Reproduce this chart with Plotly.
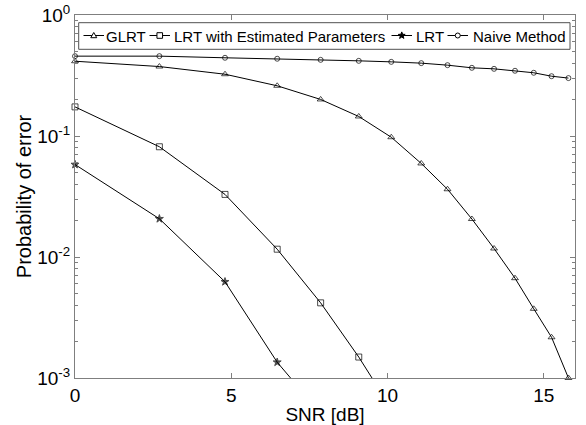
import math
import plotly.graph_objects as go

# ---- data ----
snr_db = [0, 2.70, 4.80, 6.47, 7.86, 9.08, 10.12, 11.08, 11.92, 12.70, 13.41, 14.08, 14.68, 15.25, 15.79]
glrt = [0.415, 0.375, 0.324, 0.260, 0.2005, 0.145, 0.0977, 0.0593, 0.0363, 0.0206,
        0.01175, 0.00668, 0.00373, 0.00217, 0.0010]
lrt_est = [0.174, 0.0815, 0.0329, 0.0116, 0.00418, 0.00149, 0.00056]
lrt = [0.0581, 0.0207, 0.00624, 0.00135, 0.00051]
naive = [0.457, 0.457, 0.443, 0.435, 0.426, 0.418, 0.410, 0.400, 0.385, 0.366,
         0.359, 0.346, 0.333, 0.312, 0.301]

series_names = ["GLRT", "LRT with Estimated Parameters", "LRT", "Naive Method"]
series_vals = [glrt, lrt_est, lrt, naive]

y_ticks = [1e-3, 1e-2, 1e-1, 1]
y_ticktext = ["10<sup>-3</sup>", "10<sup>-2</sup>", "10<sup>-1</sup>", "10<sup>0</sup>"]
y_minor = [k * 10.0 ** e for e in (-3, -2, -1) for k in range(2, 10)]
x_ticks = [0, 5, 10, 15]

# ---- styles ----
symbols = ["triangle-up-open", "square-open", "star", "circle-open"]
msizes = [6, 6, 6, 5]
FONT = "Liberation Sans, Arial, sans-serif"
W, H = 586, 425
ML, MR, MT, MB = 75, 11, 15, 47
PW, PH = W - ML - MR, H - MT - MB

# legend layout (figure pixels)
LEG_BOX = (78.7, 22.7, 570.0, 49.3)      # left, top, right, bottom
LEG_Y = 35.5
LEG_KEY_START = [83.5, 149.5, 391.5, 447.5]
KEY_LEN = 20.5
LEG_TEXT_START = [105.0, 172.5, 415.0, 471.5]


def px(x):
    return (x - ML) / PW


def py(y):
    return 1 - (y - MT) / PH


fig = go.Figure()
for name, vals, sym, ms in zip(series_names, series_vals, symbols, msizes):
    xs = snr_db[:len(vals)]
    sizes = [ms if v >= 1e-3 else 0 for v in vals]
    fig.add_trace(go.Scatter(
        x=xs, y=vals, name=name, mode="lines+markers",
        line=dict(color="black", width=1),
        marker=dict(symbol=sym, size=sizes, color="black", line=dict(color="black", width=1)),
        cliponaxis=False,
    ))

axis_common = dict(
    showline=True, linecolor="#7f7f7f", linewidth=1, mirror="allticks",
    ticks="inside", tickcolor="#7f7f7f", ticklen=5, tickwidth=1,
    showgrid=False, zeroline=False, automargin=False,
    tickfont=dict(family=FONT, size=19, color="black"),
)

fig.update_xaxes(
    range=[0, 16], tickvals=x_ticks,
    title=dict(text="SNR [dB]", font=dict(family=FONT, size=19, color="black"), standoff=4),
    **axis_common,
)
fig.update_yaxes(
    type="log", range=[-3, 0], tickvals=y_ticks, ticktext=y_ticktext,
    minor=dict(tickvals=y_minor, ticks="inside", ticklen=3, tickcolor="#7f7f7f", tickwidth=1),
    title=dict(text="Probability of error", font=dict(family=FONT, size=20, color="black"), standoff=0),
    **axis_common,
)

# ---- legend (drawn as layout decorations so it keeps the reference's font size) ----
shapes = []
annotations = []
l, t, r, b = LEG_BOX
shapes.append(dict(type="rect", xref="paper", yref="paper", x0=px(l), x1=px(r), y0=py(b), y1=py(t),
                   line=dict(color="#505050", width=1), fillcolor="white", layer="above"))

star_pts = []
for k in range(10):
    rad = 3.6 if k % 2 == 0 else 1.5
    ang = math.pi / 2 + k * math.pi / 5
    star_pts.append((rad * math.cos(ang), rad * math.sin(ang)))
star_path = "M" + " L".join(f"{x:.2f},{y:.2f}" for x, y in star_pts) + " Z"

key_shapes = [
    dict(type="path", path="M-3,-2.2 L3,-2.2 L0,3 Z", fillcolor="white"),
    dict(type="rect", x0=-2.8, x1=2.8, y0=-2.8, y1=2.8, fillcolor="white"),
    dict(type="path", path=star_path, fillcolor="black"),
    dict(type="circle", x0=-2.5, x1=2.5, y0=-2.5, y1=2.5, fillcolor="white"),
]

for name, ks, kx, tx in zip(series_names, key_shapes, LEG_KEY_START, LEG_TEXT_START):
    shapes.append(dict(type="line", xref="paper", yref="paper", x0=px(kx), x1=px(kx + KEY_LEN),
                       y0=py(LEG_Y), y1=py(LEG_Y), line=dict(color="black", width=1), layer="above"))
    s = dict(ks)
    s.update(xref="paper", yref="paper", xsizemode="pixel", ysizemode="pixel",
             xanchor=px(kx + KEY_LEN / 2), yanchor=py(LEG_Y),
             line=dict(color="black", width=1), layer="above")
    shapes.append(s)
    annotations.append(dict(text=name, xref="paper", yref="paper", x=px(tx), y=py(LEG_Y + 0.5),
                            xanchor="left", yanchor="middle", showarrow=False, borderpad=0,
                            font=dict(family=FONT, size=15, color="black")))

fig.update_layout(
    width=W, height=H,
    margin=dict(l=ML, r=MR, t=MT, b=MB, autoexpand=False),
    paper_bgcolor="white", plot_bgcolor="white",
    font=dict(family=FONT, color="black"),
    showlegend=False,
    shapes=shapes,
    annotations=annotations,
)

fig.write_html("out.html")
